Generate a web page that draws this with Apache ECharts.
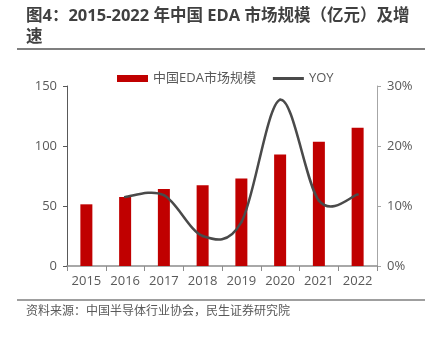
<!DOCTYPE html>
<html>
<head>
<meta charset="utf-8">
<style>
  html, body { margin: 0; padding: 0; background: #fff; }
  #chart { width: 429px; height: 339px; }
</style>
<script src="https://cdn.jsdelivr.net/npm/echarts@6/dist/echarts.min.js"></script>
</head>
<body>
<div id="chart"></div>
<script>
// Market size of China's EDA industry (100M CNY) and year-on-year growth
const years = ['2015', '2016', '2017', '2018', '2019', '2020', '2021', '2022'];
const marketSize = [51.4, 57.5, 64.2, 67.2, 73.0, 93.0, 103.6, 115.3];
const yoyGrowth = [null, 11.5, 11.8, 5.0, 7.3, 27.7, 10.9, 11.9];
const leftTicks = [0, 50, 100, 150];
const rightTicks = [0, 10, 20, 30];

const FONT = '"Open Sans", "Noto Sans CJK SC", sans-serif';
const LINE_COLOR = '#4a4a4a';
const chart = echarts.init(document.getElementById('chart'), null, { renderer: 'canvas' });

// Smoothed growth curve: each point draws a cubic segment to the next one,
// with Catmull-Rom style tangents taken from its neighbours.
function renderYoySegment(params, api) {
  const i = params.dataIndex;
  const v1 = yoyGrowth[i];
  const v2 = yoyGrowth[i + 1];
  if (v1 == null || v2 == null) return null;
  const p = (k) => api.coord([k, yoyGrowth[k]]);
  const p1 = p(i);
  const p2 = p(i + 1);
  const p0 = (i - 1 >= 0 && yoyGrowth[i - 1] != null) ? p(i - 1) : p1;
  const p3 = (i + 2 < yoyGrowth.length && yoyGrowth[i + 2] != null) ? p(i + 2) : p2;
  const t = 1 / 6;
  return {
    type: 'bezierCurve',
    shape: {
      x1: p1[0], y1: p1[1],
      x2: p2[0], y2: p2[1],
      cpx1: p1[0] + (p2[0] - p0[0]) * t, cpy1: p1[1] + (p2[1] - p0[1]) * t,
      cpx2: p2[0] - (p3[0] - p1[0]) * t, cpy2: p2[1] - (p3[1] - p1[1]) * t
    },
    style: { stroke: LINE_COLOR, lineWidth: 2.5, fill: null, lineCap: 'round' }
  };
}

chart.setOption({
  animation: false,
  textStyle: { fontFamily: FONT },
  title: {
    text: '图4：2015-2022 年中国 EDA 市场规模（亿元）及增\n速',
    left: 21,
    top: 1,
    textStyle: { fontSize: 16.5, fontWeight: 'bold', color: '#404040', lineHeight: 21, fontFamily: FONT }
  },
  graphic: [
    { type: 'line', shape: { x1: 17, y1: 49, x2: 425, y2: 49 }, style: { stroke: '#7f7f7f', lineWidth: 2 } },
    { type: 'line', shape: { x1: 17, y1: 300, x2: 425, y2: 300 }, style: { stroke: '#7f7f7f', lineWidth: 1.5 } },
    { type: 'text', left: 26, top: 304, style: { text: '资料来源：中国半导体行业协会，民生证券研究院', fontSize: 12, fill: '#595959', fontFamily: '"Noto Sans CJK SC", sans-serif' } }
  ],
  legend: {
    top: 67,
    left: 112,
    itemGap: 17,
    itemWidth: 31,
    itemHeight: 7,
    textStyle: { fontSize: 13, color: '#595959', fontFamily: FONT },
    data: [
      { name: '中国EDA市场规模', icon: 'rect' },
      { name: 'YOY', icon: 'path://M0,0 L31,0 L31,3 L0,3 Z', itemStyle: { color: LINE_COLOR } }
    ]
  },
  grid: { left: 67, right: 52, top: 86, bottom: 73 },
  xAxis: {
    type: 'category',
    data: years,
    axisLine: { lineStyle: { color: '#8c8c8c', width: 1.5 } },
    axisTick: { show: true, alignWithLabel: false, length: 5, lineStyle: { color: '#8c8c8c' } },
    axisLabel: { fontSize: 13, color: '#595959', margin: 9, fontFamily: FONT }
  },
  yAxis: [
    {
      type: 'value', min: leftTicks[0], max: leftTicks[leftTicks.length - 1], interval: 50,
      axisLine: { show: true, lineStyle: { color: '#595959', width: 1 } },
      axisTick: { show: true, length: 4, lineStyle: { color: '#595959' } },
      splitLine: { show: false },
      axisLabel: { fontSize: 13, color: '#595959', margin: 10, fontFamily: FONT }
    },
    {
      type: 'value', min: rightTicks[0], max: rightTicks[rightTicks.length - 1], interval: 10,
      position: 'right',
      axisLine: { show: true, lineStyle: { color: '#a6a6a6', width: 1 } },
      axisTick: { show: true, length: 4, lineStyle: { color: '#a6a6a6' } },
      splitLine: { show: false },
      axisLabel: { fontSize: 13, color: '#595959', margin: 10, formatter: '{value}%', fontFamily: FONT }
    }
  ],
  series: [
    {
      name: '中国EDA市场规模',
      type: 'bar',
      data: marketSize,
      barWidth: 12,
      itemStyle: { color: '#c00000' }
    },
    {
      name: 'YOY',
      type: 'custom',
      yAxisIndex: 1,
      data: yoyGrowth.map((v, i) => [i, v]),
      encode: { x: 0, y: 1 },
      renderItem: renderYoySegment,
      itemStyle: { color: LINE_COLOR },
      z: 3
    }
  ]
});
</script>
</body>
</html>
